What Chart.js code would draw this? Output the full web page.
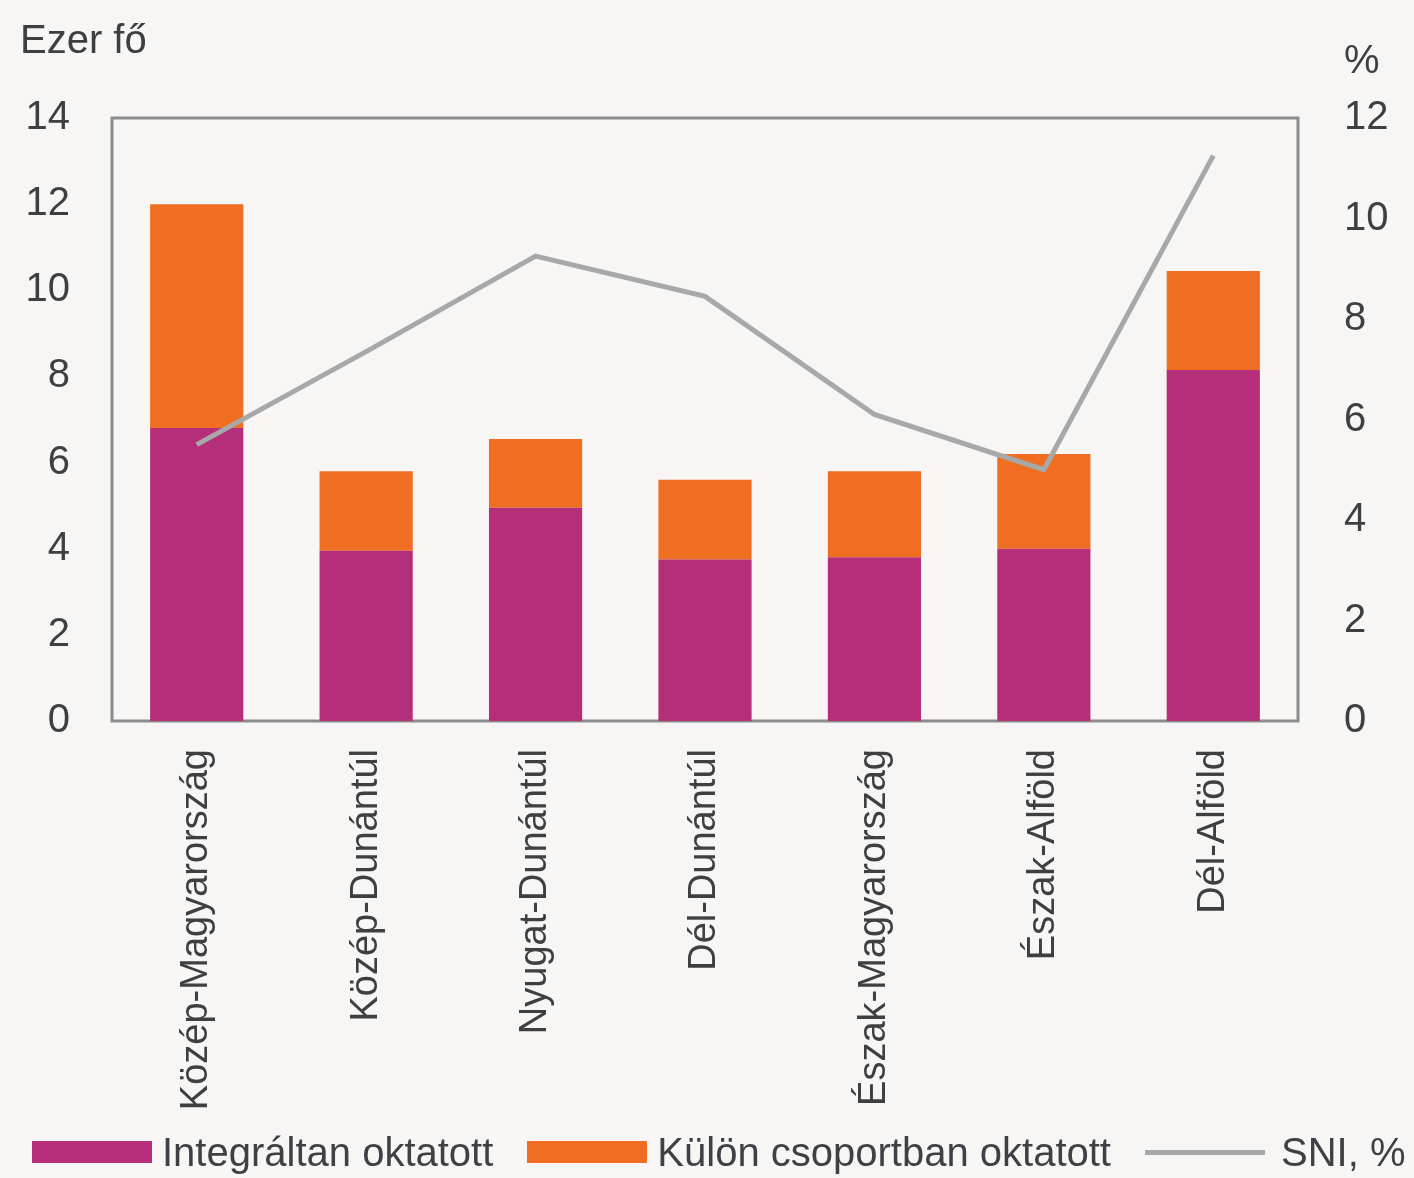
<!DOCTYPE html>
<html>
<head>
<meta charset="utf-8">
<script src="https://cdn.jsdelivr.net/npm/chart.js@4"></script>
<style>
  html, body { margin: 0; padding: 0; background: #f7f6f4; }
  #wrap { position: relative; width: 1414px; height: 1178px; }
  #legend {
    position: absolute; left: 32px; top: 1128px; height: 48px;
    display: flex; align-items: center; white-space: nowrap;
    font-family: "Liberation Sans", Arial, sans-serif; font-size: 40px; color: #3f3f46;
  }
  #legend .item { display: flex; align-items: center; margin-right: 34px; }
  #legend .box { width: 120px; height: 22px; margin-right: 10px; }
  #legend .ln { width: 120px; height: 5px; margin-right: 16px; }
</style>
</head>
<body>
<div id="wrap">
  <canvas id="chart" width="1414" height="1178"></canvas>
  <div id="legend"></div>
</div>
<script>
  // adatok
  const regions = ['Közép-Magyarország', 'Közép-Dunántúl', 'Nyugat-Dunántúl', 'Dél-Dunántúl',
    'Észak-Magyarország', 'Észak-Alföld', 'Dél-Alföld'];
  const integrated = [6.8, 3.95, 4.95, 3.75, 3.8, 4.0, 8.15];
  const separate = [5.2, 1.85, 1.6, 1.85, 2.0, 2.2, 2.3];
  const sniPct = [5.5, 7.35, 9.25, 8.45, 6.1, 5.0, 11.25];
  const leftTicks = [0, 2, 4, 6, 8, 10, 12, 14];
  const rightTicks = [0, 2, 4, 6, 8, 10, 12];

  const PURPLE = '#b52e79';
  const ORANGE = '#ef6e22';
  const GREY = '#a8a8a9';
  const TEXT = '#3f3f3f';
  const FONT = '"Liberation Sans", Arial, sans-serif';

  // keret + tengelycímek
  const framePlugin = {
    id: 'frame',
    beforeDatasetsDraw(chart) {
      const { ctx, chartArea: a } = chart;
      ctx.save();
      ctx.strokeStyle = '#8c8c8c';
      ctx.lineWidth = 3;
      ctx.strokeRect(a.left, a.top, a.right - a.left, a.bottom - a.top);
      ctx.restore();
    },
    afterDraw(chart) {
      const ctx = chart.ctx;
      ctx.save();
      ctx.fillStyle = TEXT;
      ctx.font = '40px ' + FONT;
      ctx.textBaseline = 'middle';
      ctx.textAlign = 'left';
      ctx.fillText('Ezer fő', 20, 42);
      ctx.fillText('%', 1344, 62);
      ctx.restore();
    }
  };

  new Chart(document.getElementById('chart'), {
    type: 'bar',
    data: {
      labels: regions,
      datasets: [
        {
          type: 'line',
          label: 'SNI, %',
          data: sniPct,
          yAxisID: 'y2',
          borderColor: GREY,
          borderWidth: 5,
          pointRadius: 0,
          tension: 0,
          order: 0
        },
        {
          label: 'Integráltan oktatott',
          data: integrated,
          backgroundColor: PURPLE,
          yAxisID: 'y',
          order: 1
        },
        {
          label: 'Külön csoportban oktatott',
          data: separate,
          backgroundColor: ORANGE,
          yAxisID: 'y',
          order: 1
        }
      ]
    },
    options: {
      responsive: false,
      animation: false,
      layout: { padding: { top: 118, bottom: 60, left: 0, right: 0 } },
      datasets: { bar: { barPercentage: 0.55, categoryPercentage: 1 } },
      plugins: {
        legend: { display: false },
        tooltip: { enabled: false }
      },
      scales: {
        x: {
          stacked: true,
          grid: { display: false, drawTicks: false },
          border: { display: false },
          ticks: {
            color: TEXT,
            font: { family: FONT, size: 38 },
            minRotation: 90,
            maxRotation: 90,
            padding: 28,
            autoSkip: false
          },
          afterFit(scale) { scale.height = 1178 - 60 - 721; }
        },
        y: {
          stacked: true,
          position: 'left',
          min: leftTicks[0],
          max: leftTicks[leftTicks.length - 1],
          afterBuildTicks(scale) { scale.ticks = leftTicks.map(v => ({ value: v })); },
          grid: { display: false, drawTicks: false },
          border: { display: false },
          ticks: { color: TEXT, font: { family: FONT, size: 40 }, padding: 42 },
          afterFit(scale) { scale.width = 112; }
        },
        y2: {
          position: 'right',
          min: rightTicks[0],
          max: rightTicks[rightTicks.length - 1],
          afterBuildTicks(scale) { scale.ticks = rightTicks.map(v => ({ value: v })); },
          grid: { display: false, drawTicks: false },
          border: { display: false },
          ticks: { color: TEXT, font: { family: FONT, size: 40 }, padding: 46 },
          afterFit(scale) { scale.width = 116; }
        }
      }
    },
    plugins: [framePlugin]
  });

  // jelmagyarázat
  const legendItems = [
    { text: 'Integráltan oktatott', color: PURPLE, kind: 'box' },
    { text: 'Külön csoportban oktatott', color: ORANGE, kind: 'box' },
    { text: 'SNI, %', color: GREY, kind: 'ln' }
  ];
  const legendEl = document.getElementById('legend');
  legendItems.forEach(function(it) {
    const item = document.createElement('div');
    item.className = 'item';
    const mark = document.createElement('span');
    mark.className = it.kind;
    mark.style.background = it.color;
    const label = document.createElement('span');
    label.textContent = it.text;
    item.appendChild(mark);
    item.appendChild(label);
    legendEl.appendChild(item);
  });
</script>
</body>
</html>
